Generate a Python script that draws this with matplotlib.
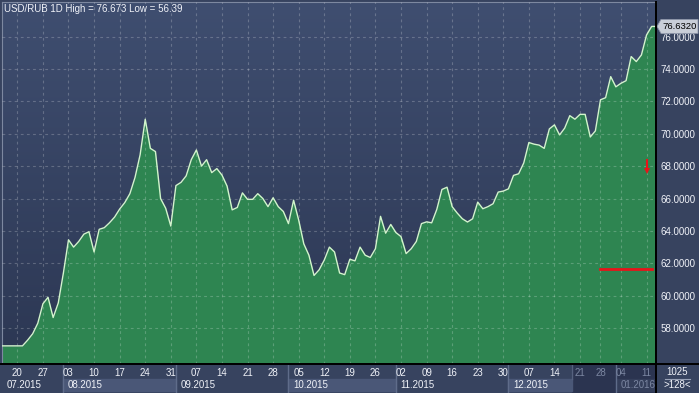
import matplotlib
matplotlib.use("Agg")
import matplotlib.pyplot as plt
import numpy as np
import pandas as pd
from matplotlib.colors import LinearSegmentedColormap
from matplotlib.patches import Polygon

plt.rcParams['font.family'] = ['Liberation Sans', 'DejaVu Sans']

# =====================================================
# DATA
# =====================================================

dates = pd.bdate_range("2015-07-15", "2016-01-12")
dates = dates.drop([pd.Timestamp("2015-12-25"), pd.Timestamp("2016-01-01")])

close = [
    56.9, 56.9, 56.9, 56.9, 56.9, 57.25, 57.65, 58.3, 59.5, 59.9,
    58.65, 59.55, 61.4, 63.45, 63.0, 63.35, 63.8, 63.95, 62.7, 64.1,
    64.2, 64.5, 64.85, 65.35, 65.75, 66.3, 67.3, 68.7, 70.9, 69.1,
    68.9, 66.0, 65.4, 64.3, 66.8, 67.0, 67.4, 68.4, 69.0, 68.0,
    68.4, 67.6, 67.85, 67.45, 66.77, 65.3, 65.45, 66.35, 65.95, 65.95,
    66.3, 66.0, 65.5, 66.05, 65.5, 65.2, 64.45, 65.9, 64.67, 63.2,
    62.5, 61.25, 61.6, 62.2, 63.0, 62.7, 61.4, 61.3, 62.25, 62.15,
    63.0, 62.5, 62.36, 62.9, 64.9, 63.86, 64.4, 63.9, 63.65, 62.6,
    62.9, 63.35, 64.45, 64.56, 64.5, 65.33, 66.56, 66.7, 65.5, 65.1,
    64.75, 64.55, 64.75, 65.78, 65.37, 65.5, 65.68, 66.4, 66.46, 66.6,
    67.43, 67.53, 68.2, 69.46, 69.36, 69.3, 69.1, 70.3, 70.55, 69.93,
    70.35, 71.12, 70.9, 71.2, 71.2, 69.8, 70.18, 72.1, 72.23, 73.53,
    72.9, 73.12, 73.28, 74.77, 74.46, 74.87, 76.1, 76.632,
]

title = "USD/RUB 1D High = 76.673 Low = 56.39"
last_tag = "76.6320"
y_ticks = [58, 60, 62, 64, 66, 68, 70, 72, 74, 76]

level_value = 61.66          # red horizontal level
level_start = "2015-12-28"
arrow_date = "2016-01-11"
arrow_top, arrow_tip = 68.35, 67.6

bars_total = "1025"
bars_visible = ">128<"
shade_from = "2015-12-17"    # darker part of the time scale

# =====================================================
# LAYOUT
# =====================================================

W, H = 699, 393
PX_L, PX_R, PX_T, PX_B = 2, 656, 2, 364

BLUE_PANEL = "#37435f"
GREEN = "#2e8551"
LINE = "#d2f5cc"
TXT = "#f0f2f8"
RED = "#e8141a"
FS = 7

fig = plt.figure(figsize=(W / 100, H / 100), dpi=100, facecolor=BLUE_PANEL)

ax = fig.add_axes([PX_L / W, (H - PX_B) / H, (PX_R - PX_L) / W, (PX_B - PX_T) / H])

x = np.arange(len(close))
xmin, xmax = 0, 127.85
ymin, ymax = 55.78, 78.14

# background gradient
cmap = LinearSegmentedColormap.from_list("bg", ["#2c3753", "#3f4e70"])
ax.imshow(np.linspace(0, 1, 256).reshape(-1, 1), extent=[xmin, xmax, ymin, ymax],
          origin="lower", aspect="auto", cmap=cmap, zorder=0)

# area + line (extend the last value to the right edge)
xe = np.append(x, xmax)
ye = np.append(close, close[-1])
ax.fill_between(xe, ye, ymin, color=GREEN, lw=0, zorder=1)
ax.plot(xe, ye, color=LINE, lw=1.0, zorder=4)

# grid
mondays = [i for i, d in enumerate(dates) if d.weekday() == 0]
for v in y_ticks:
    ax.axhline(v, color="white", alpha=0.22, lw=0.8, ls=(0, (2.5, 3)), zorder=3)
for i in mondays:
    ax.axvline(i, color="white", alpha=0.22, lw=0.8, ls=(0, (2.5, 3)), zorder=3)

# red marks
i0 = dates.get_loc(pd.Timestamp(level_start))
ax.plot([i0, len(close) - 1], [level_value, level_value], color=RED, lw=2, zorder=5)
ia = dates.get_loc(pd.Timestamp(arrow_date))
ax.plot([ia, ia], [arrow_top, arrow_tip + 0.2], color=RED, lw=1.5, zorder=5)
ax.plot([ia], [arrow_tip + 0.12], marker="v", ms=5, color=RED, mew=0, zorder=5)

ax.set_xlim(xmin, xmax)
ax.set_ylim(ymin, ymax)

ax.yaxis.tick_right()
ax.set_yticks(y_ticks)
ax.set_yticklabels([f"{v:.4f}" for v in y_ticks])
ax.tick_params(axis="y", length=0, pad=3, colors=TXT, labelsize=FS)
ax.set_xticks([])
for s in ["top", "left"]:
    ax.spines[s].set_color("#7d88a0")
    ax.spines[s].set_linewidth(0.8)
for s in ["right", "bottom"]:
    ax.spines[s].set_color("black")
    ax.spines[s].set_linewidth(1.4)

# last price tag (box with a pointer, placed at the last value)
fig.canvas.draw()
py = ax.transData.transform((0, close[-1]))[1]          # pixels from bottom
x0, x1, hh = PX_R + 1, W - 1, 7
tag = Polygon([(x0, py), (x0 + 4, py + hh), (x1, py + hh), (x1, py - hh), (x0 + 4, py - hh)],
              closed=True, transform=None, fc="#c9ced8", ec="#8d95a8", lw=0.6)
fig.add_artist(tag)
fig.text((x0 + x1 + 4) / 2 / W, py / H, last_tag, color="black", fontsize=6.8,
         ha="center", va="center")

fig.text(4 / W, 1 - 9 / H, title, color=TXT, fontsize=7, va="center", ha="left")

# =====================================================
# TIME SCALE
# =====================================================

bx = fig.add_axes([PX_L / W, 0, (PX_R - PX_L) / W, (H - PX_B - 1) / H])
bx.set_facecolor(BLUE_PANEL)
bx.set_xlim(xmin, xmax)
bx.set_ylim(0, 1)
bx.set_xticks([])
bx.set_yticks([])
for s in bx.spines.values():
    s.set_visible(False)

ishade = dates.get_loc(pd.Timestamp(shade_from)) + 0.5
bx.axvspan(ishade, xmax, color="#2b3450", zorder=1)

# month boundaries
months = pd.date_range("2015-08-01", "2016-01-01", freq="MS")
bounds = [xmin]
for m in months:
    if m in dates:
        bounds.append(dates.get_loc(m))
    else:
        bounds.append(int((dates < m).sum()) - 1)
bounds.append(xmax)
labels = ["07.2015"] + [m.strftime("%m.%Y") for m in months]

for k, lab in enumerate(labels):
    a, b = bounds[k], bounds[k + 1]
    if k % 2 == 1:
        bx.axvspan(a, min(b, ishade), ymin=0.08, ymax=0.5, color="#4a5777", zorder=2)
    elif a >= ishade:
        bx.axvspan(a, b, ymin=0.08, ymax=0.5, color="#343e5a", zorder=2)
    if k > 0:
        bx.axvline(a, color="#5f6c8a", lw=1, zorder=3)
    col = TXT if a < ishade else "#7c87a2"
    bx.text(a + 0.9, 0.3, lab, color=col, fontsize=FS, va="center", ha="left", zorder=4)

bx.axvline(ishade, ymin=0.5, ymax=1, color="#55617e", lw=1, zorder=3)

for i in mondays:
    col = TXT if i < ishade else "#7c87a2"
    bx.text(i, 0.72, dates[i].strftime("%d"), color=col, fontsize=FS,
            va="center", ha="center", zorder=4)

# frame lines continuing into the panels
fig.add_artist(plt.Line2D([PX_R / W, PX_R / W], [0, 1 - PX_T / H], color="black", lw=1.4))
fig.add_artist(plt.Line2D([0, 1], [1 - PX_B / H, 1 - PX_B / H], color="black", lw=1.4))

# bar counter box
fig.text(677 / W, 1 - 372 / H, bars_total, color=TXT, fontsize=FS, ha="center", va="center")
fig.text(677 / W, 1 - 385 / H, bars_visible, color=TXT, fontsize=FS, ha="center", va="center")
fig.add_artist(plt.Line2D([665 / W, 690 / W], [1 - 379 / H, 1 - 379 / H], color="#9aa3b8", lw=0.8))

fig.savefig("out.png", dpi=100, facecolor=fig.get_facecolor())
